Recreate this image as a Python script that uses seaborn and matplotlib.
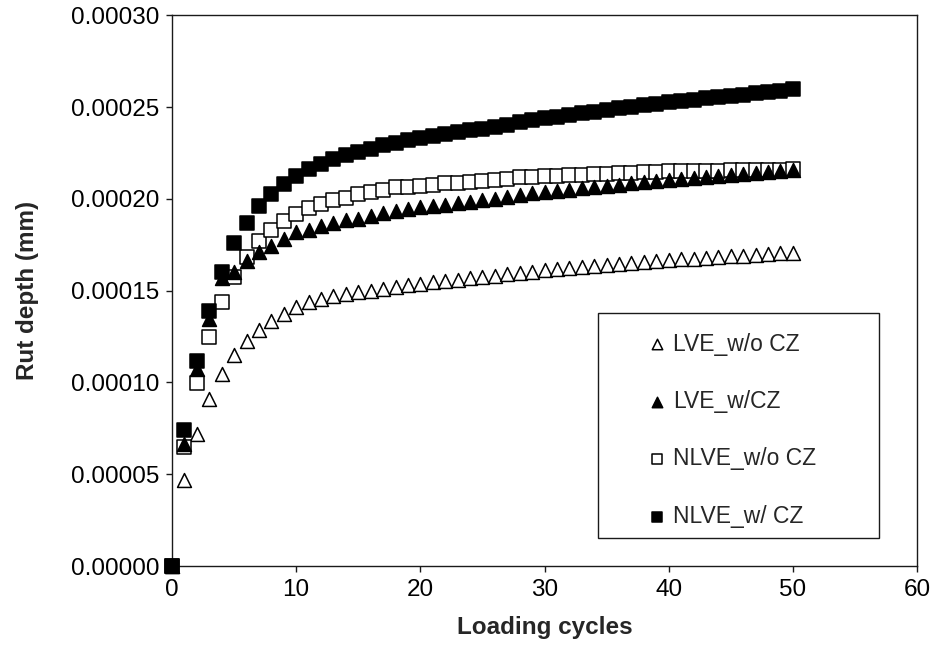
import numpy as np
import pandas as pd
import matplotlib
matplotlib.use("Agg")
import matplotlib.pyplot as plt
from matplotlib.patches import Rectangle
from matplotlib.ticker import FormatStrFormatter
import seaborn as sns

# Loading cycles 0..50
cycles = list(range(51))

# Rut depth (x1e-4 mm) for each model
lve_wo_cz = [0.000, 0.467, 0.721, 0.911, 1.047, 1.147, 1.228, 1.286, 1.337, 1.373,
             1.410, 1.436, 1.456, 1.470, 1.481, 1.491, 1.500, 1.511, 1.522, 1.530,
             1.538, 1.545, 1.553, 1.560, 1.567, 1.574, 1.581, 1.588, 1.595, 1.603,
             1.610, 1.617, 1.623, 1.629, 1.635, 1.641, 1.647, 1.652, 1.658, 1.662,
             1.667, 1.671, 1.675, 1.679, 1.683, 1.687, 1.691, 1.695, 1.699, 1.703,
             1.707]
lve_w_cz = [0.000, 0.667, 1.074, 1.346, 1.570, 1.603, 1.663, 1.708, 1.745, 1.783,
            1.817, 1.832, 1.850, 1.868, 1.884, 1.893, 1.908, 1.922, 1.935, 1.944,
            1.953, 1.962, 1.969, 1.977, 1.984, 1.993, 2.000, 2.009, 2.020, 2.030,
            2.037, 2.044, 2.051, 2.058, 2.064, 2.071, 2.077, 2.084, 2.090, 2.097,
            2.104, 2.110, 2.115, 2.120, 2.125, 2.130, 2.135, 2.140, 2.145, 2.150,
            2.155]
nlve_wo_cz = [0.000, 0.649, 0.998, 1.250, 1.436, 1.572, 1.685, 1.768, 1.830, 1.877,
              1.917, 1.948, 1.971, 1.995, 2.007, 2.026, 2.038, 2.047, 2.062, 2.067,
              2.071, 2.076, 2.085, 2.089, 2.092, 2.098, 2.103, 2.110, 2.117, 2.121,
              2.124, 2.127, 2.130, 2.132, 2.135, 2.138, 2.141, 2.143, 2.146, 2.149,
              2.150, 2.151, 2.152, 2.153, 2.154, 2.155, 2.156, 2.157, 2.158, 2.159,
              2.160]
nlve_w_cz = [0.000, 0.739, 1.116, 1.391, 1.600, 1.757, 1.871, 1.960, 2.026, 2.080,
             2.125, 2.161, 2.188, 2.216, 2.237, 2.255, 2.274, 2.292, 2.306, 2.318,
             2.330, 2.342, 2.353, 2.363, 2.373, 2.383, 2.393, 2.404, 2.418, 2.428,
             2.439, 2.448, 2.457, 2.466, 2.475, 2.484, 2.493, 2.502, 2.511, 2.519,
             2.527, 2.534, 2.541, 2.548, 2.555, 2.562, 2.568, 2.575, 2.582, 2.589,
             2.596]

series_names = ["LVE_w/o CZ", "LVE_w/CZ", "NLVE_w/o CZ", "NLVE_w/ CZ"]
x_ticks = [0, 10, 20, 30, 40, 50, 60]
y_ticks = [0.0, 0.00005, 0.00010, 0.00015, 0.00020, 0.00025, 0.00030]

data = {
    "LVE_w/o CZ": lve_wo_cz,
    "LVE_w/CZ": lve_w_cz,
    "NLVE_w/o CZ": nlve_wo_cz,
    "NLVE_w/ CZ": nlve_w_cz,
}
frames = []
for name in series_names:
    frames.append(pd.DataFrame({"cycle": cycles,
                                "rut": np.array(data[name]) * 1e-4,
                                "model": name}))
df = pd.concat(frames, ignore_index=True)

sns.set_theme(style="white")
plt.rcParams["font.family"] = ["Liberation Sans", "DejaVu Sans"]

fig = plt.figure(figsize=(9.35, 6.45), dpi=100)
ax = fig.add_axes([0.18396, 0.12248, 0.79679, 0.8538])

styles = {
    "LVE_w/o CZ": dict(marker="^", color="white", s=100, z=3),
    "NLVE_w/o CZ": dict(marker="s", color="white", s=88, z=4),
    "LVE_w/CZ": dict(marker="^", color="black", s=100, z=5),
    "NLVE_w/ CZ": dict(marker="s", color="black", s=88, z=6),
}
for name in ["LVE_w/o CZ", "NLVE_w/o CZ", "LVE_w/CZ", "NLVE_w/ CZ"]:
    st = styles[name]
    sub = df[df["model"] == name]
    sns.scatterplot(data=sub, x="cycle", y="rut", ax=ax, marker=st["marker"],
                    color=st["color"], edgecolor="black", linewidth=1.1,
                    s=st["s"], label=name, zorder=st["z"], legend=False,
                    clip_on=False)

ax.set_xlim(0, 60)
ax.set_ylim(0, 0.0003)
ax.set_xticks(x_ticks)
ax.set_yticks(y_ticks)
ax.yaxis.set_major_formatter(FormatStrFormatter("%.5f"))
ax.xaxis.set_major_formatter(FormatStrFormatter("%d"))

for sp in ax.spines.values():
    sp.set_visible(True)
    sp.set_color("#1a1a1a")
    sp.set_linewidth(1.0)

ax.tick_params(axis="both", which="major", direction="out", length=4, width=1.0,
               color="#1a1a1a", labelsize=17.5, labelcolor="black", pad=5)
ax.tick_params(top=False, right=False, bottom=True, left=True)

ax.set_xlabel("Loading cycles", fontsize=17.5, fontweight="bold", labelpad=11)
ax.set_ylabel("Rut depth (mm)", fontsize=17.5, fontweight="bold", labelpad=23)

# Legend: boxed panel in the lower right of the plot area
ax.add_patch(Rectangle((0.572, 0.051), 0.377, 0.408, transform=ax.transAxes,
                       facecolor="white", edgecolor="#1a1a1a", linewidth=1.0,
                       zorder=7))
handles, labels = ax.get_legend_handles_labels()
order = [labels.index(n) for n in series_names]
leg = ax.legend([handles[i] for i in order], [labels[i] for i in order],
                loc="upper left", bbox_to_anchor=(0.639, 0.424), frameon=False,
                borderpad=0, borderaxespad=0, handlelength=0.8,
                handletextpad=0.3, labelspacing=1.5, markerscale=0.75,
                fontsize=16.5)
leg.set_zorder(8)

fig.savefig("out.png", dpi=100)
